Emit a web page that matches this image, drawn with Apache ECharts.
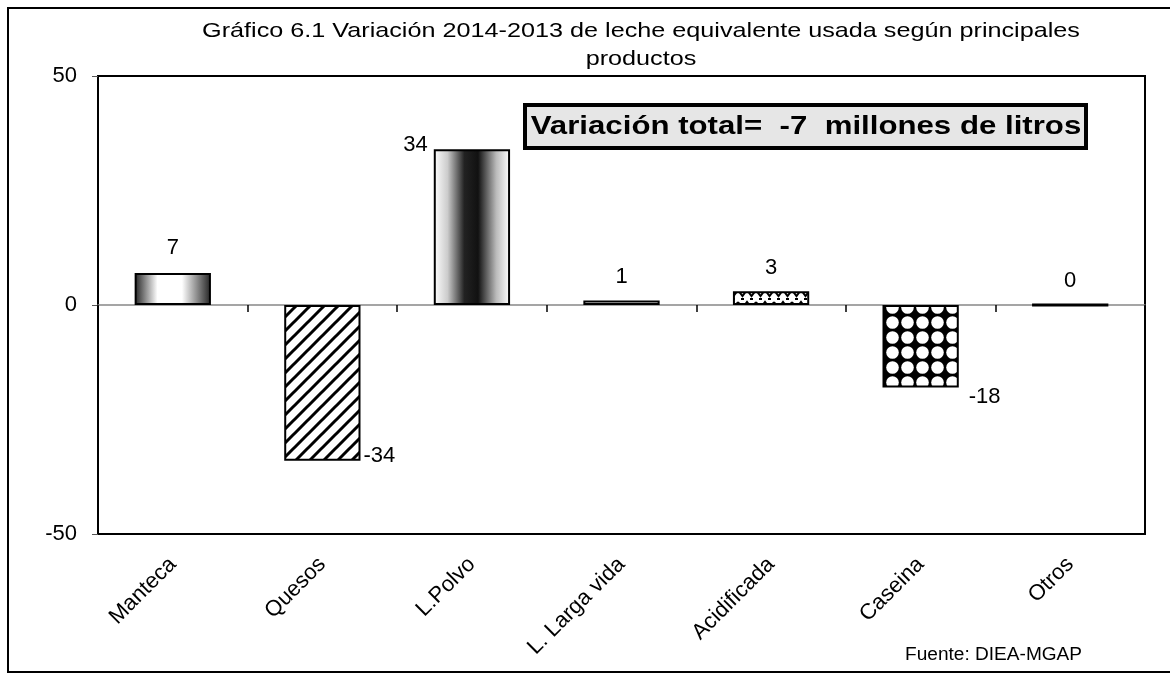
<!DOCTYPE html>
<html>
<head>
<meta charset="utf-8">
<script src="https://cdn.jsdelivr.net/npm/echarts@6/dist/echarts.min.js"></script>
<style>
  html, body { margin: 0; padding: 0; background: #fff; }
  #chart { width: 1170px; height: 675px; }
</style>
</head>
<body>
<div id="chart"></div>
<script>
  const categories = ['Manteca', 'Quesos', 'L.Polvo', 'L. Larga vida', 'Acidificada', 'Caseina', 'Otros']
  const values = [7, -34, 34, 1, 3, -18, 0]
  const yTicks = [-50, 0, 50]
  const titleText = 'Gráfico 6.1 Variación 2014-2013 de leche equivalente usada según principales\nproductos'
  const noteText = 'Variación total=  -7  millones de litros'
  const sourceText = 'Fuente: DIEA-MGAP'

  const FONT = '"Liberation Sans", Arial, sans-serif'

  // small canvas tiles used as bar fills
  const makeTile = (w, h, draw) => {
    const c = document.createElement('canvas')
    c.width = w
    c.height = h
    draw(c.getContext('2d'), w, h)
    return { image: c, repeat: 'repeat' }
  }

  const hatch = makeTile(14, 14, (ctx, w, h) => {
    ctx.fillStyle = '#fff'
    ctx.fillRect(0, 0, w, h)
    ctx.strokeStyle = '#000'
    ctx.lineWidth = 3
    ctx.beginPath()
    ctx.moveTo(-7, 7); ctx.lineTo(7, -7)
    ctx.moveTo(0, 14); ctx.lineTo(14, 0)
    ctx.moveTo(7, 21); ctx.lineTo(21, 7)
    ctx.stroke()
  })

  const zigzag = makeTile(18, 12, (ctx, w, h) => {
    ctx.fillStyle = '#fff'
    ctx.fillRect(0, 0, w, h)
    ctx.strokeStyle = '#000'
    ctx.lineWidth = 2
    ctx.beginPath()
    ctx.moveTo(0, 2); ctx.lineTo(4.5, 8); ctx.lineTo(9, 2); ctx.lineTo(13.5, 8); ctx.lineTo(18, 2)
    ctx.stroke()
    ctx.fillStyle = '#000'
    ctx.fillRect(3, 10, 3, 2)
    ctx.fillRect(12, 10, 3, 2)
  })

  const dots = makeTile(15, 15, (ctx, w, h) => {
    ctx.fillStyle = '#000'
    ctx.fillRect(0, 0, w, h)
    ctx.fillStyle = '#fff'
    ctx.beginPath()
    ctx.arc(7.5, 7.5, 6.3, 0, Math.PI * 2)
    ctx.fill()
  })

  const fills = [
    new echarts.graphic.LinearGradient(0, 0, 1, 0, [
      { offset: 0, color: '#222' },
      { offset: 0.3, color: '#fff' },
      { offset: 0.62, color: '#fff' },
      { offset: 1, color: '#222' }
    ]),
    hatch,
    new echarts.graphic.LinearGradient(0, 0, 1, 0, [
      { offset: 0, color: '#fff' },
      { offset: 0.18, color: '#ccc' },
      { offset: 0.4, color: '#222' },
      { offset: 0.58, color: '#111' },
      { offset: 0.82, color: '#bbb' },
      { offset: 1, color: '#fff' }
    ]),
    '#fff',
    zigzag,
    dots,
    '#000'
  ]

  const topLabel = { position: 'top', distance: 12 }
  const labelStyles = [
    { position: 'top', distance: 14 },
    { position: ['100%', '100%'], align: 'left', verticalAlign: 'middle', offset: [3, -5] },
    { position: ['0%', '0%'], align: 'right', verticalAlign: 'middle', offset: [-6, -4] },
    topLabel,
    topLabel,
    { position: ['100%', '100%'], align: 'left', verticalAlign: 'middle', offset: [10, 9] },
    topLabel
  ]

  const chart = echarts.init(document.getElementById('chart'))

  const option = {
    backgroundColor: '#fff',
    animation: false,
    textStyle: { fontFamily: FONT, color: '#000' },
    grid: {
      left: 98,
      right: 25,
      top: 76,
      bottom: 141,
      show: true,
      borderColor: '#000',
      borderWidth: 2,
      backgroundColor: 'transparent'
    },
    xAxis: [
      {
        type: 'category',
        data: categories,
        position: 'bottom',
        axisLine: { show: false, onZero: false },
        axisTick: { show: false },
        axisLabel: {
          rotate: 45,
          margin: 27,
          fontSize: 22,
          color: '#000',
          fontFamily: FONT
        }
      },
      {
        type: 'category',
        data: categories,
        position: 'top',
        axisLine: { show: true, onZero: true, lineStyle: { color: '#888', width: 1.5 } },
        axisTick: { show: true, inside: true, length: 7, lineStyle: { color: '#000', width: 1.5 } },
        axisLabel: { show: false }
      }
    ],
    yAxis: {
      type: 'value',
      min: yTicks[0],
      max: yTicks[yTicks.length - 1],
      interval: 50,
      axisLine: { show: false },
      axisTick: { show: true, length: 6, lineStyle: { color: '#555' } },
      splitLine: { show: false },
      axisLabel: {
        margin: 21,
        fontSize: 22,
        color: '#000',
        fontFamily: FONT
      }
    },
    series: [
      {
        type: 'bar',
        xAxisIndex: 0,
        barWidth: '51%',
        itemStyle: { borderColor: '#000', borderWidth: 2 },
        label: {
          show: true,
          fontSize: 22,
          color: '#000',
          fontFamily: FONT,
          formatter: '{c}'
        },
        data: values.map((v, i) => ({
          value: v,
          itemStyle: { color: fills[i], borderWidth: v === 0 ? 3 : 2 },
          label: labelStyles[i]
        }))
      }
    ],
    graphic: [
      {
        type: 'rect',
        shape: { x: 8, y: 8, width: 1180, height: 664 },
        style: { fill: 'none', stroke: '#000', lineWidth: 2 },
        silent: true
      },
      {
        type: 'text',
        x: 641,
        y: 17,
        scaleX: 1.2,
        style: {
          text: titleText,
          font: '21px ' + FONT,
          fill: '#000',
          align: 'center',
          lineHeight: 28
        }
      },
      {
        type: 'rect',
        shape: { x: 525, y: 105, width: 561, height: 43 },
        style: { fill: '#e6e6e6', stroke: '#000', lineWidth: 4 },
        z: 10
      },
      {
        type: 'text',
        x: 806,
        y: 127,
        z: 11,
        scaleX: 1.2,
        style: {
          text: noteText,
          font: 'bold 26px ' + FONT,
          fill: '#000',
          align: 'center',
          verticalAlign: 'middle'
        }
      },
      {
        type: 'text',
        x: 905,
        y: 655,
        scaleX: 1.06,
        style: {
          text: sourceText,
          font: '18px ' + FONT,
          fill: '#000',
          align: 'left',
          verticalAlign: 'middle'
        }
      }
    ]
  }

  chart.setOption(option)
</script>
</body>
</html>
